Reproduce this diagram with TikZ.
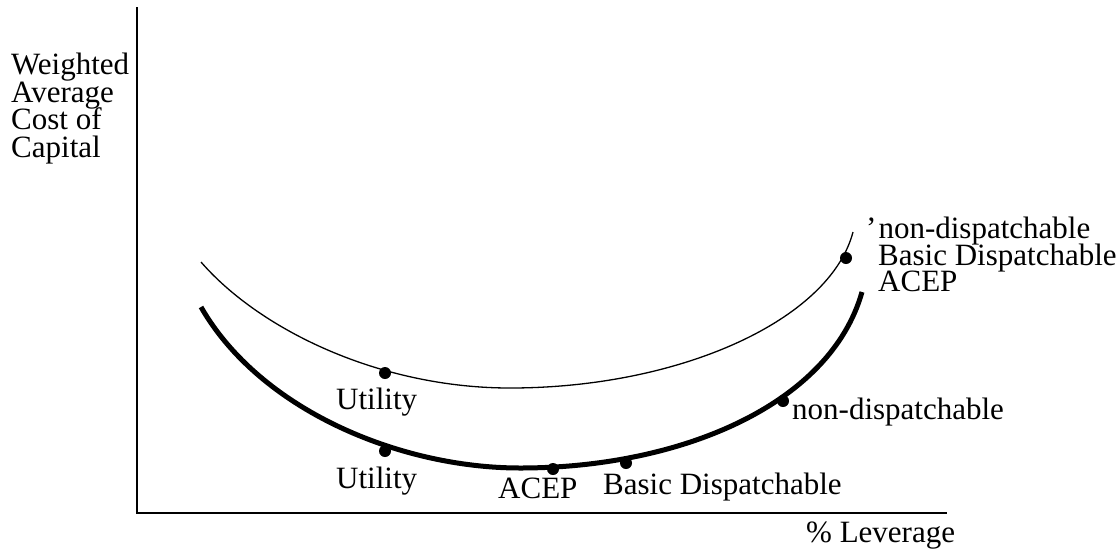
\documentclass[tikz,border=0pt]{standalone}
\usepackage{fontspec}
\setmainfont{Liberation Serif}
\begin{document}
\begin{tikzpicture}[x=1pt,y=-1pt,
  lbl/.style={anchor=base west,inner sep=0pt,font=\fontsize{31}{28}\selectfont},
  axisline/.style={line width=2pt},
  thincurve/.style={line width=1.3pt},
  thickcurve/.style={line width=5pt},
  dotmark/.style={circle,fill=black,inner sep=0pt,minimum size=12pt}]
\useasboundingbox (0,0) rectangle (1117,550);
% axes
\coordinate (ytop) at (137,7);
\coordinate (orig) at (137,513);
\coordinate (xend) at (947,513);
\draw[axisline] (ytop) -- (orig) -- (xend);
% y label
\node[lbl] (yl1) at (11,74) {Weighted};
\node[lbl] (yl2) at (11,102) {Average};
\node[lbl] (yl3) at (11,129) {Cost of};
\node[lbl] (yl4) at (11,157) {Capital};
% x label
\node[lbl] (xl) at (806,542) {\% Leverage};
% upper thin curve
\coordinate (ua) at (201,262);
\coordinate (um) at (510,388);
\coordinate (ub) at (853,232);
\draw[thincurve] (ua) .. controls (260,330) and (380,388) .. (um)
                      .. controls (680,388) and (830,320) .. (ub);
% lower thick curve
\coordinate (la) at (201,307);
\coordinate (lm) at (520,468);
\coordinate (lb) at (862,292);
\draw[thickcurve] (la) .. controls (260,410) and (400,468) .. (lm)
                       .. controls (680,468) and (830,405) .. (lb);
% dots
\node[dotmark] (u1) at (385,373) {};
\node[dotmark] (n1) at (846,258) {};
\node[dotmark] (u2) at (385,451) {};
\node[dotmark] (a2) at (553,469) {};
\node[dotmark] (b2) at (626,463) {};
\node[dotmark] (n2) at (783,401) {};
% labels
\node[lbl] (tu1) at (336,409) {Utility};
\node[lbl] (tu2) at (336,488) {Utility};
\node[lbl] (ta2) at (498,498) {ACEP};
\node[lbl] (tb2) at (603,494) {Basic Dispatchable};
\node[lbl] (tn2) at (792,419) {non-dispatchable};
\node[lbl] (tr1) at (866,238) {'\kern2pt non-dispatchable};
\node[lbl] (tr2) at (878,265) {Basic Dispatchable};
\node[lbl] (tr3) at (878,291) {ACEP};
\end{tikzpicture}
\end{document}
